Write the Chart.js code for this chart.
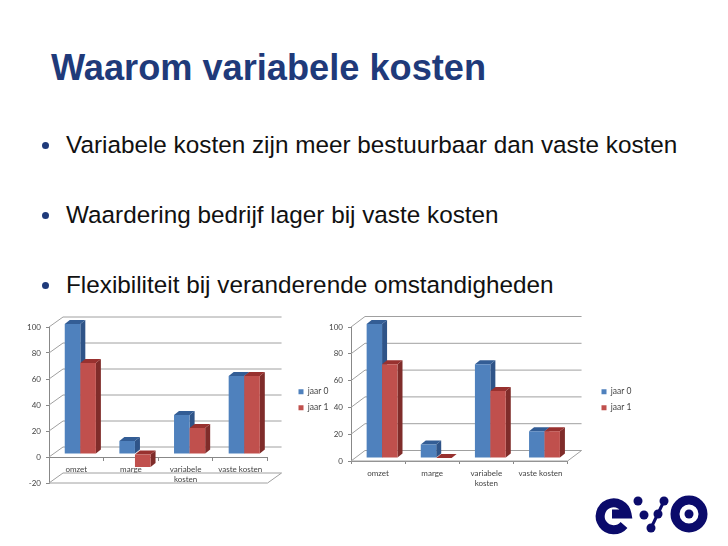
<!DOCTYPE html>
<html>
<head>
<meta charset="utf-8">
<script src="https://cdn.jsdelivr.net/npm/chart.js@4/dist/chart.umd.min.js"></script>
<style>
  html, body { margin: 0; padding: 0; background: #fff; }
  body { position: relative; width: 728px; height: 546px; overflow: hidden; font-family: "Liberation Sans", sans-serif; }
  h1 { position: absolute; left: 51px; top: 47px; margin: 0; font-size: 36.2px; line-height: 41px; font-weight: bold; color: #1f3a7a; white-space: nowrap; }
  .item { position: absolute; left: 66px; font-size: 24.3px; line-height: 28px; color: #111; white-space: nowrap; }
  .dot { position: absolute; left: 41.5px; width: 7px; height: 7px; border-radius: 50%; background: #1f3a7a; }
  canvas { position: absolute; filter: blur(0.35px); }
  #logo { position: absolute; left: 580px; top: 480px; }
</style>
</head>
<body>
<h1>Waarom variabele kosten</h1>
<div class="dot" style="top:142px"></div>
<div class="item" style="top:131px">Variabele kosten zijn meer bestuurbaar dan vaste kosten</div>
<div class="dot" style="top:212px"></div>
<div class="item" style="top:201px">Waardering bedrijf lager bij vaste kosten</div>
<div class="dot" style="top:282px"></div>
<div class="item" style="top:271px">Flexibiliteit bij veranderende omstandigheden</div>

<div style="position:absolute;left:10px;top:310px;width:330px;height:190px"><canvas id="chart1"></canvas></div>
<div style="position:absolute;left:320px;top:310px;width:320px;height:190px"><canvas id="chart2"></canvas></div>

<svg id="logo" width="148" height="66" viewBox="580 480 148 66" fill="none" stroke="#0b0b6b">
  <path d="M612 514 H627 A13.5 13.5 0 1 0 624 525" stroke-width="9"/>
  <circle cx="689" cy="514" r="14" stroke-width="9"/>
  <circle cx="689" cy="514" r="4.5" fill="#0b0b6b" stroke="none"/>
  <path d="M664 501 L651 528" stroke-width="3"/>
  <g fill="#0b0b6b" stroke="none">
    <circle cx="638" cy="501" r="4.5"/>
    <circle cx="644" cy="515" r="4.5"/>
    <circle cx="664" cy="501" r="4.5"/>
    <circle cx="658" cy="514" r="4.5"/>
    <circle cx="651" cy="528" r="4.5"/>
  </g>
</svg>

<script>
const categories = ['omzet', 'marge', ['variabele', 'kosten'], 'vaste kosten'];
const seriesNames = ['jaar 0', 'jaar 1'];

const chart1Year0 = [100, 10, 30, 60];
const chart1Year1 = [70, -10, 20, 60];
const chart2Year0 = [100, 10, 70, 20];
const chart2Year1 = [70, 0, 50, 20];

const colors = ['#4f81bd', '#c0504d'];
const sideColors = ['#2f5488', '#7f2c2a'];
const topColors = ['#335d95', '#98312f'];

// sides and tops of the bars, the front is drawn by chart.js on top
function drawFaces(chart, index, opts) {
  const { ctx } = chart;
  const dx = opts.barX, dy = opts.barY;
  chart.getDatasetMeta(index).data.forEach(bar => {
    const l = bar.x - bar.width / 2, r = bar.x + bar.width / 2;
    const top = Math.min(bar.y, bar.base), bottom = Math.max(bar.y, bar.base);
    ctx.fillStyle = sideColors[index];
    ctx.beginPath();
    ctx.moveTo(r, top);
    ctx.lineTo(r + dx, top - dy);
    ctx.lineTo(r + dx, bottom - dy);
    ctx.lineTo(r, bottom);
    ctx.fill();
    ctx.fillStyle = topColors[index];
    ctx.beginPath();
    ctx.moveTo(l, top);
    ctx.lineTo(l + dx, top - dy);
    ctx.lineTo(r + dx, top - dy);
    ctx.lineTo(r, top);
    ctx.fill();
  });
}

// the back wall and floor of the excel style 3d look
const wall3d = {
  id: 'wall3d',
  beforeDatasetsDraw(chart, args, opts) {
    const { ctx, chartArea: { left, right } } = chart;
    const y = chart.scales.y;
    const dx = opts.wallX, dy = opts.wallY;
    ctx.save();
    ctx.strokeStyle = '#a0a0a0';
    ctx.lineWidth = 1;
    y.ticks.forEach(t => {
      const py = y.getPixelForValue(t.value);
      ctx.beginPath();
      ctx.moveTo(left, py);
      ctx.lineTo(left + dx, py - dy);
      ctx.lineTo(right + dx, py - dy);
      ctx.stroke();
    });
    const floor = y.getPixelForValue(y.min);
    ctx.beginPath();
    ctx.moveTo(left, floor);
    ctx.lineTo(right, floor);
    ctx.lineTo(right + dx, floor - dy);
    ctx.stroke();
    ctx.restore();
  },
  // chart.js paints the last dataset first, jaar 1 has to end up in front
  beforeDatasetDraw(chart, args, opts) {
    if (args.index === 1) return false;
    chart.ctx.save();
    chart.ctx.translate(opts.shiftX, opts.shiftY);
    drawFaces(chart, 0, opts);
  },
  afterDatasetDraw(chart, args, opts) {
    drawFaces(chart, 1, opts);
    chart.getDatasetMeta(1).controller.draw();
    chart.ctx.restore();
  },
  afterLayout(chart, args, opts) {
    const lg = chart.legend;
    const w = lg.right - lg.left, h = lg.bottom - lg.top;
    lg.left = opts.legendX;
    lg.right = lg.left + w;
    lg.top = opts.legendY;
    lg.bottom = lg.top + h;
  }
};

function makeChart(id, year0, year1, min, cfg) {
  new Chart(document.getElementById(id), {
    type: 'bar',
    plugins: [wall3d],
    data: {
      labels: categories,
      datasets: [
        { label: seriesNames[0], data: year0, backgroundColor: colors[0] },
        { label: seriesNames[1], data: year1, backgroundColor: colors[1] }
      ]
    },
    options: {
      responsive: true,
      maintainAspectRatio: false,
      animation: false,
      layout: { padding: cfg.padding },
      datasets: { bar: { categoryPercentage: 0.57, barPercentage: 1 } },
      scales: {
        x: {
          position: cfg.xPosition,
          afterFit: cfg.xHeight ? s => { s.height = cfg.xHeight; } : undefined,
          grid: { offset: true, drawOnChartArea: false, tickLength: 3, color: '#888' },
          border: { color: '#888' },
          ticks: { color: '#444', font: { family: 'Lato', size: 8 }, padding: 5, maxRotation: 0 }
        },
        y: {
          min: min,
          max: 100,
          afterFit: s => { s.width = cfg.yWidth; },
          grid: { drawOnChartArea: false, tickLength: 3, color: '#888' },
          border: { color: '#888' },
          ticks: { stepSize: 20, color: '#444', font: { family: 'Lato', size: 8 }, padding: 5 }
        }
      },
      plugins: {
        tooltip: { enabled: false },
        legend: {
          position: 'right',
          align: 'start',
          labels: { boxWidth: 5, boxHeight: 5, padding: 7.5, color: '#444', font: { family: 'Lato', size: 8.5 } }
        },
        wall3d: cfg.wall
      }
    }
  });
}

makeChart('chart1', chart1Year0, chart1Year1, -20, {
  padding: { top: 17, right: 25, bottom: 17, left: 0 },
  xPosition: { y: 0 },
  yWidth: 39,
  wall: { wallX: 14, wallY: 10, barX: 5, barY: 4, shiftX: 4, shiftY: -3, legendX: 281, legendY: 70 }
});

makeChart('chart2', chart2Year0, chart2Year1, 0, {
  padding: { top: 17, right: 25, bottom: 0, left: 0 },
  xPosition: 'bottom',
  xHeight: 39,
  yWidth: 31,
  wall: { wallX: 14, wallY: 10.5, barX: 5, barY: 4, shiftX: 4, shiftY: -3, legendX: 274, legendY: 70 }
});
</script>
</body>
</html>
